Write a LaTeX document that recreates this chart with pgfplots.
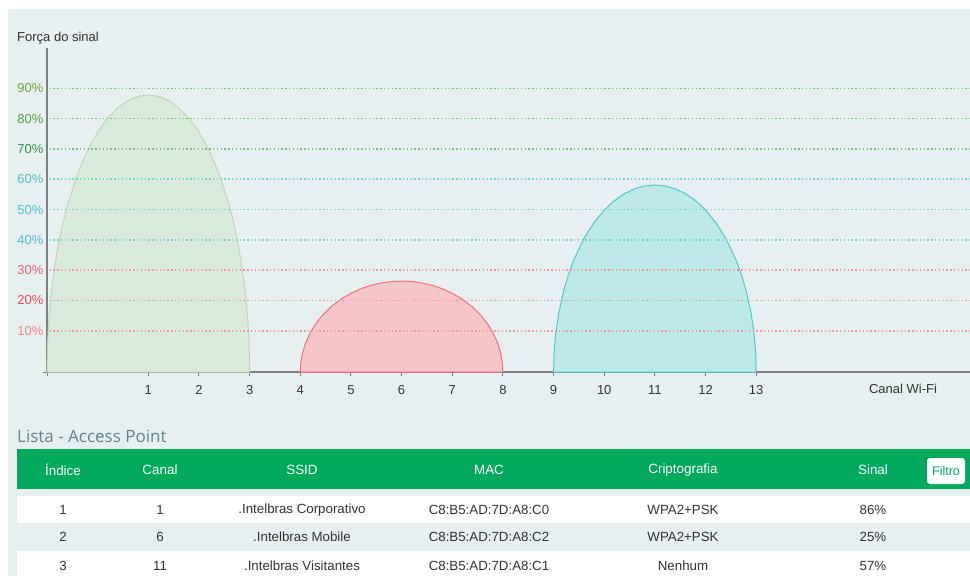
\documentclass[border=0pt]{standalone}
\usepackage{pgfplots}
\pgfplotsset{compat=1.18}
\usepackage{fontspec}
\setmainfont{Liberation Sans}
\newfontfamily\titlefont{Open Sans}
\definecolor{bg}{HTML}{E7EFF0}
\definecolor{hdr}{HTML}{00A95C}
\definecolor{axgray}{HTML}{808080}
\definecolor{txt}{HTML}{333333}
\definecolor{gfill}{HTML}{DAEADD}
\definecolor{gedge}{HTML}{B9DBB0}
\definecolor{rfill}{HTML}{F5C5C8}
\definecolor{redge}{HTML}{F0707E}
\definecolor{cfill}{HTML}{BDE9E9}
\definecolor{cedge}{HTML}{4CCBCE}
\definecolor{gridG}{HTML}{74C274}
\definecolor{gridC}{HTML}{6ED2D6}
\definecolor{gridR}{HTML}{F0969D}
\definecolor{l90}{HTML}{6FA636}
\definecolor{l80}{HTML}{4EA644}
\definecolor{l70}{HTML}{2D9B45}
\definecolor{l60}{HTML}{4FC1C6}
\definecolor{l30}{HTML}{F2607A}
\definecolor{l20}{HTML}{F04D5E}
\definecolor{l10}{HTML}{F2877A}
\definecolor{ttl}{HTML}{62858C}
\begin{document}
\fontsize{13pt}{15pt}\selectfont
\begin{tikzpicture}[x=1pt,y=1pt]
\path[use as bounding box] (0,0) rectangle (970,-576);
\fill[bg] (8,-9) rectangle (970,-576);
% table backgrounds
\fill[hdr] (17,-449) rectangle (970,-489);
\fill[white] (17,-496) rectangle (970,-523);
\fill[white] (17,-551) rectangle (970,-576);
\fill[white, rounded corners=3pt] (927,-458) rectangle (965,-484);
\node[text=hdr, font=\fontsize{12.5pt}{14pt}\selectfont] at (946,-471) {Filtro};
% title
\node[anchor=west, text=ttl, font=\titlefont\fontsize{17pt}{19pt}\selectfont, inner sep=0pt] at (17,-436) {Lista - Access Point};
% header
\begin{scope}[every node/.style={text=white, inner sep=0pt, font=\fontsize{13.4pt}{15pt}\selectfont}]
\node at (63,-470) {Índice};
\node at (160,-470) {Canal};
\node at (302,-470) {SSID};
\node at (489,-470) {MAC};
\node at (683,-470) {Criptografia};
\node at (873,-470) {Sinal};
\end{scope}
\begin{scope}[every node/.style={text=txt, inner sep=0pt, font=\fontsize{13.3pt}{15pt}\selectfont}]
\node at (63,-510) {1};
\node at (160,-510) {1};
\node at (302,-510) {.Intelbras Corporativo};
\node at (489,-510) {C8:B5:AD:7D:A8:C0};
\node at (683,-510) {WPA2+PSK};
\node at (873,-510) {86\%};
\node at (63,-537) {2};
\node at (160,-537) {6};
\node at (302,-537) {.Intelbras Mobile};
\node at (489,-537) {C8:B5:AD:7D:A8:C2};
\node at (683,-537) {WPA2+PSK};
\node at (873,-537) {25\%};
\node at (63,-566) {3};
\node at (160,-566) {11};
\node at (302,-566) {.Intelbras Visitantes};
\node at (489,-566) {C8:B5:AD:7D:A8:C1};
\node at (683,-566) {Nenhum};
\node at (873,-566) {57\%};
\end{scope}
% chart
\node[anchor=west, text=txt, inner sep=0pt] at (17,-38) {Força do sinal};
\node[text=txt, inner sep=0pt] at (903,-389) {Canal Wi-Fi};
\begin{axis}[
  at={(47pt,-372pt)}, anchor=south west,
  scale only axis, width=923pt, height=324pt,
  xmin=-1, xmax=17.22, ymin=-3.6, ymax=103.3,
  clip=false,
  axis lines=left,
  axis line style={-, draw=axgray, line width=1.6pt},
  /pgf/number format/assume math mode=true,
  tick label style={font=\fontsize{13pt}{15pt}\selectfont, text=txt},
  xtick={1,2,...,13},
  extra x ticks={-1}, extra x tick labels={},
  tick align=outside,
  major tick length=4pt,
  tick style={draw=axgray, line width=1pt},
  ytick={10,20,...,90},
  yticklabels={\textcolor{l10}{10\%},\textcolor{l20}{20\%},\textcolor{l30}{30\%},\textcolor{l60}{40\%},\textcolor{l60}{50\%},\textcolor{l60}{60\%},\textcolor{l70}{70\%},\textcolor{l80}{80\%},\textcolor{l90}{90\%}},
  ytick style={draw=none},
  yticklabel style={xshift=5pt},
  xticklabel style={yshift=-5pt},
  gridline/.style={line width=1.5pt, dash pattern=on 1.5pt off 2.3pt},
]
\addplot[fill=gfill, draw=gedge, line width=1pt] coordinates {
(-1,-3.6) (-0.99,5.53) (-0.96,14.59) (-0.9,24.94) (-0.8,36.24) (-0.7,44.55) (-0.6,51.24) (-0.4,61.67) (-0.2,69.52) (0,75.55) (0.2,80.17) (0.4,83.59) (0.6,85.95) (0.8,87.34) (1,87.8) (1.2,87.34) (1.4,85.95) (1.6,83.59) (1.8,80.17) (2,75.55) (2.2,69.52) (2.4,61.67) (2.6,51.24) (2.7,44.55) (2.8,36.24) (2.9,24.94) (2.96,14.59) (2.99,5.53) (3,-3.6)
} -- cycle;
\addplot[fill=rfill, draw=redge, line width=1pt] coordinates {
(4,-3.6) (4.01,-0.6) (4.04,2.37) (4.1,5.77) (4.2,9.48) (4.3,12.20) (4.4,14.4) (4.6,17.82) (4.8,20.4) (5,22.38) (5.2,23.90) (5.4,25.02) (5.6,25.79) (5.8,26.25) (6,26.4) (6.2,26.25) (6.4,25.79) (6.6,25.02) (6.8,23.90) (7,22.38) (7.2,20.4) (7.4,17.82) (7.6,14.4) (7.7,12.20) (7.8,9.48) (7.9,5.77) (7.96,2.37) (7.99,-0.6) (8,-3.6)
} -- cycle;
\addplot[fill=cfill, draw=cedge, line width=1pt] coordinates {
(9,-3.6) (9.01,2.56) (9.04,8.68) (9.1,15.67) (9.2,23.29) (9.3,28.90) (9.4,33.42) (9.6,40.46) (9.8,45.76) (10,49.83) (10.2,52.95) (10.4,55.26) (10.6,56.85) (10.8,57.79) (11,58.1) (11.2,57.79) (11.4,56.85) (11.6,55.26) (11.8,52.95) (12,49.83) (12.2,45.76) (12.4,40.46) (12.6,33.42) (12.7,28.90) (12.8,23.29) (12.9,15.67) (12.96,8.68) (12.99,2.56) (13,-3.6)
} -- cycle;
% dotted grid lines
\addplot[gridline, draw=gridG] coordinates {(-0.95,90) (17.22,90)};
\addplot[gridline, draw=gridG] coordinates {(-0.95,80) (17.22,80)};
\addplot[gridline, draw=gridG] coordinates {(-0.95,70) (17.22,70)};
\addplot[gridline, draw=gridC] coordinates {(-0.95,60) (17.22,60)};
\addplot[gridline, draw=gridC] coordinates {(-0.95,50) (17.22,50)};
\addplot[gridline, draw=gridC] coordinates {(-0.95,40) (17.22,40)};
\addplot[gridline, draw=gridR] coordinates {(-0.95,30) (17.22,30)};
\addplot[gridline, draw=gridR] coordinates {(-0.95,20) (17.22,20)};
\addplot[gridline, draw=gridR] coordinates {(-0.95,10) (17.22,10)};
\draw[axgray, line width=1pt] (axis cs:-1,-3.6) -- ++(-4pt,0pt);
\end{axis}
\end{tikzpicture}
\end{document}
